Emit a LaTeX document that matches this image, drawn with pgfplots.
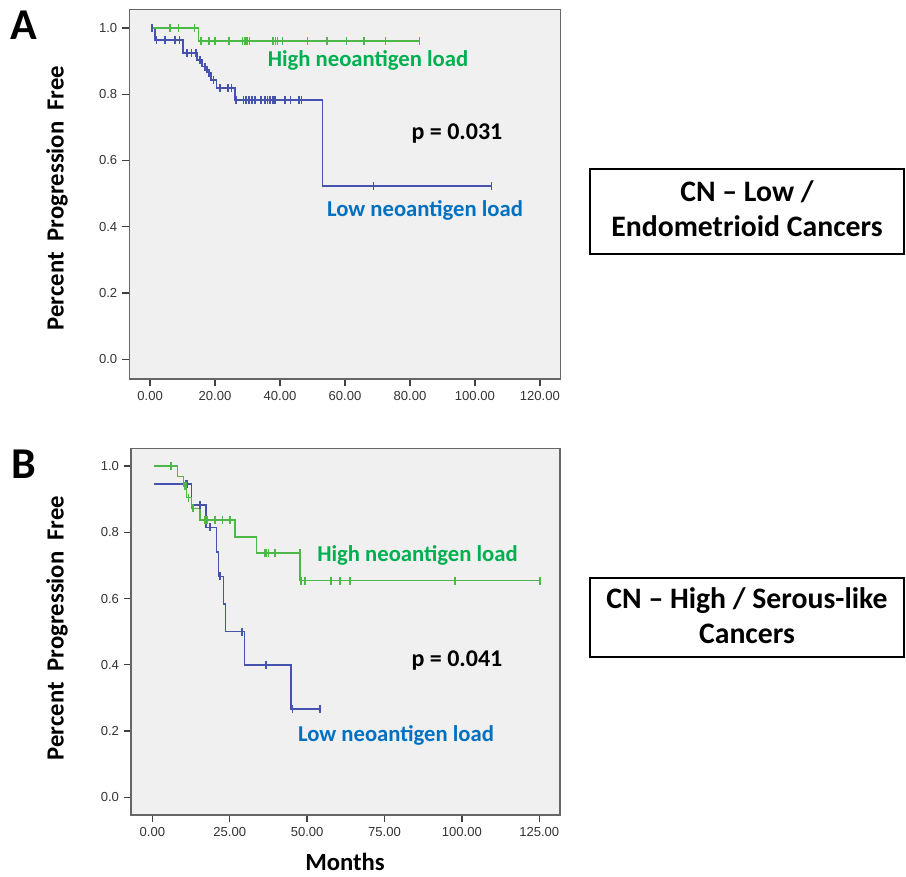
\documentclass[border=0pt]{standalone}
\usepackage{fontspec}
\setmainfont{Carlito}
\newfontfamily\arial{Liberation Sans}
\usepackage{pgfplots}
\pgfplotsset{compat=1.18}
\definecolor{kmgreen}{HTML}{4CB848}
\definecolor{kmblue}{HTML}{4553AE}
\definecolor{txtgreen}{HTML}{00B050}
\definecolor{txtblue}{HTML}{0070C0}
\definecolor{bgray}{HTML}{F0F0F0}
\pgfplotsset{kmaxis/.style={
  scale only axis,
  axis background/.style={fill=bgray},
  axis line style={draw=black!60, line width=0.9pt},
  tick pos=left, tick align=outside, major tick length=5.5pt,
  every tick/.style={draw=black!75, line width=1pt},
  ytick={0,0.2,0.4,0.6,0.8,1.0},
  yticklabel style={/pgf/number format/.cd,fixed,fixed zerofill,precision=1},
  xticklabel style={/pgf/number format/.cd,fixed,fixed zerofill,precision=2,1000 sep={}},
  tick label style={font=\arial\fontsize{9.8}{11}\selectfont, text=black!80},
  /pgf/number format/assume math mode=true,
},
kmline/.style={const plot, line width=1.1pt},
kmcens/.style={only marks, mark=|, mark size=3pt, mark options={line width=1.1pt}},
}
\begin{document}
\begin{tikzpicture}
\useasboundingbox (0,0) rectangle (679.5pt,657pt);
% ---------------- Panel A ----------------
\begin{axis}[kmaxis, at={(96.975pt,372.75pt)}, anchor=south west,
  width=323.55pt, height=277.275pt,
  xmin=-6.4, xmax=126.4, ymin=-0.059, ymax=1.056,
  xtick={0,20,40,60,80,100,120}]
\addplot[kmline, kmblue] coordinates {(0.6,1.0) (1.5,0.964) (10.2,0.924) (14.5,0.903) (16.0,0.883) (17.5,0.865) (18.8,0.843) (20.5,0.818) (26.1,0.783) (53.1,0.523) (105.1,0.523)};
\addplot[kmcens, kmblue] coordinates {(0.6,1.0) (2.0,0.964) (4.6,0.964) (7.7,0.964) (9.0,0.964) (11.3,0.924) (12.8,0.924) (14.2,0.924) (15.4,0.903) (16.9,0.883) (18.2,0.865) (19.6,0.843) (21.5,0.818) (24.0,0.818) (25.0,0.818) (26.5,0.783) (28.7,0.783) (29.5,0.783) (30.4,0.783) (31.3,0.783) (32.3,0.783) (34.1,0.783) (35.4,0.783) (36.1,0.783) (36.9,0.783) (37.8,0.783) (38.5,0.783) (41.5,0.783) (43.3,0.783) (45.9,0.783) (46.6,0.783) (68.7,0.523) (105.1,0.523)};
\addplot[kmline, kmgreen] coordinates {(0.6,1.0) (14.9,0.961) (82.9,0.961)};
\addplot[kmcens, kmgreen] coordinates {(6.1,1.0) (8.8,1.0) (13.6,1.0) (15.7,0.961) (18.2,0.961) (20.0,0.961) (24.3,0.961) (28.5,0.961) (29.2,0.961) (29.9,0.961) (30.6,0.961) (37.8,0.961) (38.6,0.961) (39.2,0.961) (40.8,0.961) (48.5,0.961) (54.4,0.961) (60.5,0.961) (65.9,0.961) (72.4,0.961) (82.9,0.961)};
\end{axis}
% ---------------- Panel B ----------------
\begin{axis}[kmaxis, at={(98.25pt,45.75pt)}, anchor=south west,
  width=321.75pt, height=275pt,
  xmin=-6.9, xmax=131.7, ymin=-0.053, ymax=1.053,
  xtick={0,25,50,75,100,125}]
\addplot[kmline, kmblue] coordinates {(0.6,0.945) (12.7,0.882) (17.3,0.815) (20.8,0.74) (21.3,0.667) (22.9,0.583) (23.7,0.5) (29.7,0.4) (44.8,0.267) (54.2,0.267)};
\addplot[kmcens, kmblue] coordinates {(10.8,0.945) (11.3,0.945) (15.4,0.882) (18.6,0.815) (21.9,0.667) (28.9,0.5) (36.7,0.4) (45.3,0.267) (54.2,0.267)};
\addplot[kmline, kmgreen] coordinates {(0.6,1.0) (8.1,0.968) (10.0,0.938) (11.1,0.904) (12.7,0.872) (15.4,0.837) (26.7,0.785) (33.7,0.737) (47.7,0.654) (125.2,0.654)};
\addplot[kmcens, kmgreen] coordinates {(6.0,1.0) (10.4,0.938) (10.8,0.938) (11.6,0.904) (13.2,0.872) (17.0,0.837) (17.6,0.837) (20.3,0.837) (22.7,0.837) (25.1,0.837) (36.4,0.737) (36.9,0.737) (37.5,0.737) (39.6,0.737) (47.7,0.737) (48.0,0.654) (49.3,0.654) (57.7,0.654) (60.6,0.654) (63.9,0.654) (97.8,0.654) (125.2,0.654)};
\end{axis}
% ---------------- Texts ----------------
\node[anchor=base, font=\bfseries\fontsize{33}{36}\selectfont] at (18pt,627pt) {A};
\node[anchor=base, font=\bfseries\fontsize{33}{36}\selectfont] at (18pt,298.5pt) {B};
\node[rotate=90, font=\bfseries\fontsize{18.5}{21}\selectfont] at (42.75pt,508.5pt) {Percent\ \ Progression\ \ Free};
\node[rotate=90, font=\bfseries\fontsize{18.5}{21}\selectfont] at (42.75pt,186pt) {Percent\ \ Progression\ \ Free};
\node[anchor=base, font=\bfseries\fontsize{18.5}{21}\selectfont] at (258.75pt,4.5pt) {Months};
\node[anchor=base, font=\bfseries\fontsize{17}{20}\selectfont, text=txtgreen] at (276pt,606.75pt) {High neoantigen load};
\node[anchor=base, font=\bfseries\fontsize{18}{21}\selectfont] at (342.75pt,552pt) {p = 0.031};
\node[anchor=base, font=\bfseries\fontsize{17}{20}\selectfont, text=txtblue] at (318.75pt,494.25pt) {Low neoantigen load};
\node[anchor=base, font=\bfseries\fontsize{17}{20}\selectfont, text=txtgreen] at (313.1pt,235.7pt) {High neoantigen load};
\node[anchor=base, font=\bfseries\fontsize{18}{21}\selectfont] at (342.75pt,157.5pt) {p = 0.041};
\node[anchor=base, font=\bfseries\fontsize{17}{20}\selectfont, text=txtblue] at (297pt,101.25pt) {Low neoantigen load};
% boxes
\draw[line width=1.6pt] (442.5pt,530.25pt) rectangle (678pt,466.5pt);
\node[anchor=base, font=\bfseries\fontsize{22.3}{25}\selectfont] at (560.25pt,505.5pt) {CN – Low /};
\node[anchor=base, font=\bfseries\fontsize{22.3}{25}\selectfont] at (560.25pt,479.25pt) {Endometrioid Cancers};
\draw[line width=1.6pt] (442.5pt,223.5pt) rectangle (678pt,164.25pt);
\node[anchor=base, font=\bfseries\fontsize{22.3}{25}\selectfont] at (560.25pt,201pt) {CN – High / Serous-like};
\node[anchor=base, font=\bfseries\fontsize{22.3}{25}\selectfont] at (560.25pt,174.75pt) {Cancers};
\end{tikzpicture}
\end{document}
